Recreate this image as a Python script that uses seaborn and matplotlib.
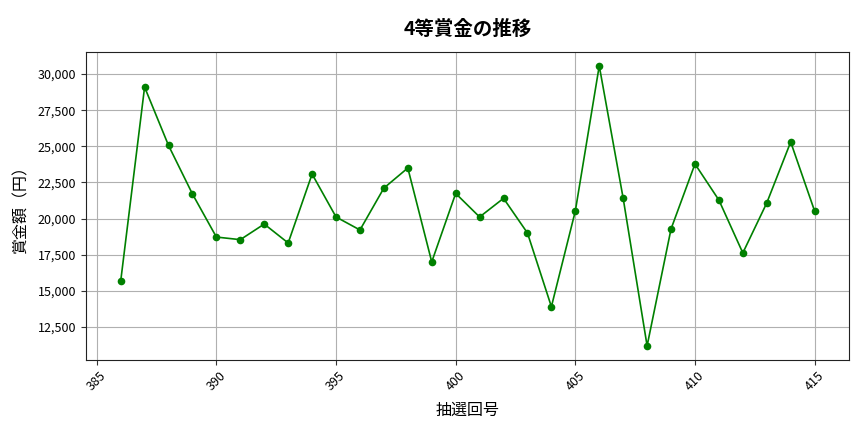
import matplotlib
matplotlib.use("Agg")
import matplotlib.pyplot as plt
import matplotlib.ticker as mticker
import seaborn as sns
import pandas as pd

draws = list(range(386, 416))
prizes = [15650, 29100, 25060, 21700, 18720, 18540, 19620, 18310, 23080, 20110,
          19210, 22110, 23500, 17000, 21740, 20110, 21400, 19000, 13900, 20520,
          30570, 21400, 11190, 19280, 23780, 21280, 17620, 21080, 25300, 20520]

title = "4等賞金の推移"
xlabel = "抽選回号"
ylabel = "賞金額（円）"

sns.set_style("ticks")
plt.rcParams['font.family'] = ['Noto Sans CJK JP', 'DejaVu Sans']
plt.rcParams['text.color'] = 'black'
plt.rcParams['axes.labelcolor'] = 'black'

df = pd.DataFrame({"draw": draws, "prize": prizes})

fig = plt.figure(figsize=(8.64, 4.32), dpi=100)
ax = fig.add_axes([0.0995, 0.167, 0.8835, 0.713])
sns.lineplot(data=df, x="draw", y="prize", ax=ax, color="green", marker="o",
             markersize=5.5, markeredgewidth=0, linewidth=1.2)
ax.grid(True, color="#b0b0b0", linewidth=0.8)
for s in ax.spines.values():
    s.set_color("#222222")
    s.set_linewidth(0.8)
ax.set_title(title, fontsize=14, fontweight="bold", pad=12, color="black")
ax.set_xlabel(xlabel, fontsize=11.5, labelpad=6)
ax.set_ylabel(ylabel, fontsize=11.5, labelpad=6)
ax.xaxis.set_major_locator(mticker.MultipleLocator(5))
ax.yaxis.set_major_formatter(mticker.FuncFormatter(lambda v, p: f"{int(v):,}"))
ax.tick_params(axis="both", labelsize=9, colors="#333333", labelcolor="black")
plt.setp(ax.get_xticklabels(), rotation=45)
fig.savefig("out.png", dpi=100)
